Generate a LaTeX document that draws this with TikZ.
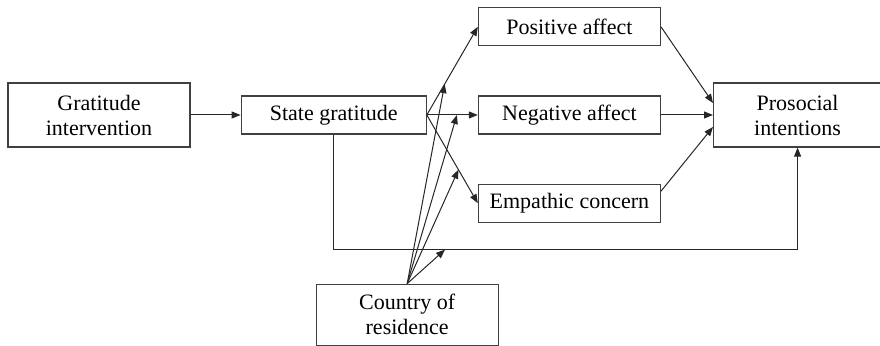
\documentclass[tikz,border=0pt]{standalone}
\usepackage{fontspec}
\setmainfont{Liberation Serif}
\usepackage{tikz}
\usetikzlibrary{
    arrows.meta,
    positioning,
    calc
}

\begin{document}
\begin{tikzpicture}[
            >={Triangle[length=4.5pt,width=3.5pt]},
            box/.style={
                draw=black!75,
                rectangle,
                align=center,
                minimum width=91pt,
                minimum height=19pt,
                inner sep=2pt,
                line width=0.6pt,
                font=\rmfamily\fontsize{11}{12.5}\selectfont
            },
            tallbox/.style={
                box,
                minimum height=32pt
            },
            arrow/.style={
                ->,
                draw=black!85,
                line width=0.5pt
            }
            ]

            % fixed frame of the picture
            \useasboundingbox (-49.5pt,57.5pt) rectangle (390.5pt,-115.5pt);

            \node[tallbox] (intervention) at (0,0)
            {Gratitude\\intervention};

            \node[box, minimum width=92.5pt, right=25pt of intervention] (state)
            {State gratitude};

            \node[box, right=25.5pt of state] (negative)
            {Negative affect};

            \node[box, above=24.5pt of negative] (positive)
            {Positive affect};

            \node[box, below=24.5pt of negative] (empathic)
            {Empathic concern};

            \node[tallbox, minimum width=84pt, right=26pt of negative] (prosocial)
            {Prosocial\\intentions};

            \node[tallbox, minimum height=30.5pt, below=74.5pt of state, xshift=36.75pt] (country)
            {Country of\\residence};

            \draw[arrow]
            (intervention.east) -- (state.west);

            \draw[arrow]
            (state.east) -- coordinate[pos=0.35] (onpos) (positive.west);

            \draw[arrow]
            (state.east) -- coordinate[pos=0.59] (onneg) (negative.west);

            \draw[arrow]
            (state.east) -- coordinate[pos=0.62] (onemp) (empathic.west);

            \draw[arrow]
            (positive.east) -- ([yshift=6pt]prosocial.west);

            \draw[arrow]
            (negative.east) -- (prosocial.west);

            \draw[arrow]
            ([yshift=6pt]empathic.east) -- ([yshift=-6pt]prosocial.west);

            \draw[arrow]
            (state.south) -- ++(0,-57.5pt) -| coordinate[pos=0.12] (ondirect) (prosocial.south);

            % moderation by country
            \draw[arrow] (country.north) -- (onpos);
            \draw[arrow] (country.north) -- (onneg);
            \draw[arrow] (country.north) -- (onemp);
            \draw[arrow] (country.north) -- (ondirect);

        \end{tikzpicture}
\end{document}
